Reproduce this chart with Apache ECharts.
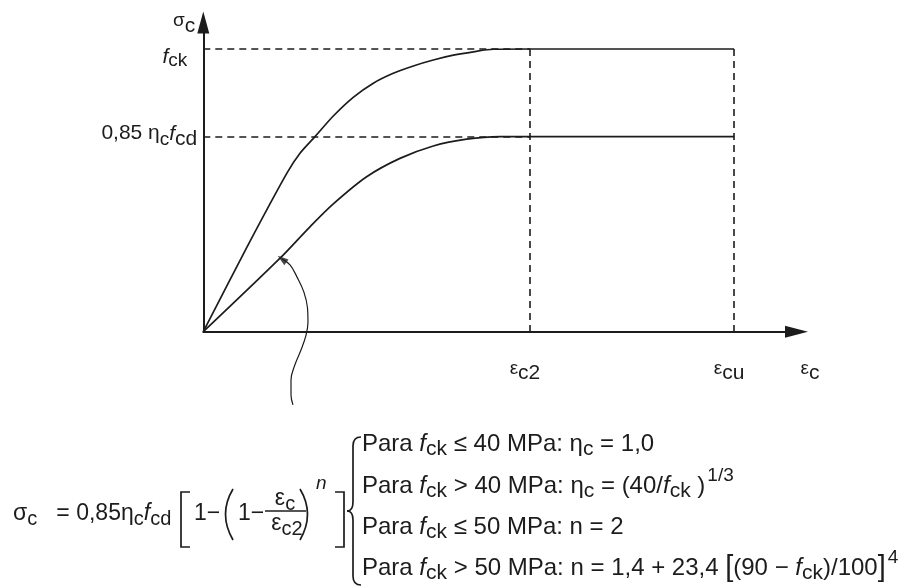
<!DOCTYPE html>
<html>
<head>
<meta charset="utf-8">
<script src="https://cdn.jsdelivr.net/npm/echarts@6/dist/echarts.min.js"></script>
<style>
  html, body { margin: 0; padding: 0; background: #ffffff; }
  #chart { width: 904px; height: 588px; }
</style>
</head>
<body>
<div id="chart"></div>
<script>
// Normalised units: strain relative to εc2 = 2.0, stress relative to fck = 1.0
const EPS_C2 = 2.0;
const EPS_CU = 3.25;
const FCK = 1.0;
const SIGMA_CD = 0.69;      // 0,85·ηc·fcd as a fraction of fck
const X_MAX = 3.632;
const Y_MAX = 1.094;

// Characteristic stress-strain curve (reaches fck at εc2, plateau to εcu)
const upperStrain = [0, 0.268, 0.511, 0.592, 0.684, 0.796, 0.918, 1.041, 1.163, 1.286, 1.408, 1.531, 1.653, 1.776, 2.0, 3.25];
const upperStress = [0, 0.300, 0.560, 0.631, 0.690, 0.763, 0.829, 0.879, 0.914, 0.940, 0.961, 0.978, 0.990, 0.999, 1.0, 1.0];

// Design parabola-rectangle curve (reaches 0,85·ηc·fcd at εc2)
const lowerStrain = [0, 0.470, 0.653, 0.796, 1.0, 1.204, 1.408, 1.612, 1.816, 2.0, 3.25];
const lowerStress = [0, 0.260, 0.371, 0.452, 0.548, 0.613, 0.657, 0.681, 0.690, 0.690, 0.690];

// Leader line from the formula up to the design curve
const leaderStrain = [0.482, 0.531, 0.574, 0.616, 0.638, 0.641, 0.629, 0.598, 0.561, 0.537, 0.537, 0.549];
const leaderStress = [0.257, 0.236, 0.193, 0.140, 0.084, 0.034, -0.012, -0.065, -0.117, -0.171, -0.224, -0.259];

// Axis tick positions and their labels
const xTickValues = [EPS_C2, EPS_CU];
const xTickLabels = ['{e|ε}{s|c2}', '{e|ε}{s|cu}'];
const yTickValues = [SIGMA_CD, FCK];
const yTickLabels = ['{n|0,85 η}{s|c}{i|f}{d|cd}', '{fi|f}{fs|ck}'];

const INK = '#1c1c1c';
const FONT = "'Liberation Sans', Arial, sans-serif";

const zip = (xs, ys) => xs.map((x, i) => [x, ys[i]]);

// Rich styles for the formula block
const R = {
  i:   { fontFamily: FONT, fontSize: 24, fontStyle: 'italic' },
  s:   { fontFamily: FONT, fontSize: 21, padding: [10, 0, 0, 0] },
  mi:  { fontFamily: FONT, fontSize: 23, fontStyle: 'italic' },
  ms:  { fontFamily: FONT, fontSize: 20, padding: [10, 0, 0, 0] },
  sup: { fontFamily: FONT, fontSize: 19, padding: [0, 0, 20, 2] },
  b:   { fontFamily: FONT, fontSize: 29 }
};

function txt(x, y, text, extra) {
  return {
    type: 'text', x: x, y: y, silent: true,
    style: Object.assign({
      text: text, fill: INK, fontFamily: FONT, fontSize: 24,
      align: 'left', verticalAlign: 'middle', rich: R
    }, extra || {})
  };
}
function stroke(type, shape) {
  return {
    type: type, silent: true, shape: shape,
    style: { stroke: INK, lineWidth: 1.7, fill: null }
  };
}
// quadratic curve helper for the large delimiters
const quad = (x1, y1, cx, cy, x2, y2) => stroke('bezierCurve', { x1: x1, y1: y1, cpx1: cx, cpy1: cy, x2: x2, y2: y2 });

const paraY = [444, 486, 527, 568];
const paraLines = [
  'Para {i|f}{s|ck} ≤ 40 MPa: η{s|c} = 1,0',
  'Para {i|f}{s|ck} > 40 MPa: η{s|c} = (40/{i|f}{s|ck} ){sup|1/3}',
  'Para {i|f}{s|ck} ≤ 50 MPa: n = 2',
  'Para {i|f}{s|ck} > 50 MPa: n = 1,4 + 23,4 {b|[}(90 − {i|f}{s|ck})/100{b|]}{sup|4}'
];

const formula = [
  txt(13, 514, 'σ{ms|c}   = 0,85η{ms|c}{mi|f}{ms|cd}', { fontSize: 23 }),
  stroke('polyline', { points: [[190, 492], [181, 492], [181, 547], [190, 547]] }),
  txt(194, 514, '1−', { fontSize: 23 }),
  quad(233, 489, 218, 514, 233, 540),
  txt(238, 514, '1−', { fontSize: 23 }),
  txt(285, 499, 'ε{ms|c}', { align: 'center', fontSize: 23 }),
  stroke('line', { x1: 265, y1: 511, x2: 306, y2: 511 }),
  txt(287, 524, 'ε{ms|c2}', { align: 'center', fontSize: 23 }),
  quad(300, 489, 315, 514, 300, 540),
  txt(316, 484, 'n', { fontStyle: 'italic', fontSize: 19 }),
  stroke('polyline', { points: [[335, 492], [344, 492], [344, 547], [335, 547]] }),
  // large left brace
  quad(361, 437, 353, 437, 353, 446),
  stroke('line', { x1: 353, y1: 446, x2: 353, y2: 502 }),
  quad(353, 502, 353, 511, 347, 511),
  quad(347, 511, 353, 511, 353, 520),
  stroke('line', { x1: 353, y1: 520, x2: 353, y2: 576 }),
  quad(353, 576, 353, 585, 361, 585)
].concat(paraLines.map((t, k) => txt(362, paraY[k], t)));

const refLine = { type: [7, 5], width: 1.6, color: INK };

const option = {
  animation: false,
  backgroundColor: '#ffffff',
  grid: { left: 203.3, right: 107.5, top: 22.4, bottom: 256.3, containLabel: false },
  xAxis: {
    type: 'value', min: 0, max: X_MAX,
    splitLine: { show: false },
    axisTick: { show: false },
    axisLine: {
      show: true, onZero: false,
      lineStyle: { color: INK, width: 2 },
      symbol: ['none', 'triangle'], symbolSize: [12, 23]
    },
    axisLabel: {
      customValues: xTickValues,
      margin: 23,
      padding: [0, 10, 0, 0],
      formatter: v => xTickLabels[xTickValues.indexOf(v)] || '',
      rich: {
        e: { fontFamily: FONT, fontSize: 19, color: INK },
        s: { fontFamily: FONT, fontSize: 21, color: INK, padding: [8, 0, 0, 0] }
      }
    },
    name: '{e|ε}{s|c}',
    nameLocation: 'end',
    nameGap: 4,
    nameTextStyle: {
      align: 'left', verticalAlign: 'top', padding: [23, 0, 0, 0],
      rich: {
        e: { fontFamily: FONT, fontSize: 19, color: INK },
        s: { fontFamily: FONT, fontSize: 21, color: INK, padding: [8, 0, 0, 0] }
      }
    }
  },
  yAxis: {
    type: 'value', min: 0, max: Y_MAX,
    splitLine: { show: false },
    axisTick: { show: false },
    axisLine: {
      show: true, onZero: false,
      lineStyle: { color: INK, width: 2 },
      symbol: ['none', 'triangle'], symbolSize: [12, 22]
    },
    axisLabel: {
      customValues: yTickValues,
      margin: 6,
      formatter: v => yTickLabels[yTickValues.indexOf(v)] || '',
      rich: {
        n:  { fontFamily: FONT, fontSize: 21, color: INK, padding: [0, 0, 6, 0] },
        s:  { fontFamily: FONT, fontSize: 19, color: INK, padding: [6, 0, 0, 0] },
        i:  { fontFamily: FONT, fontSize: 21, color: INK, fontStyle: 'italic', padding: [0, 0, 4, 0] },
        d:  { fontFamily: FONT, fontSize: 21, color: INK, padding: [6, 0, 0, 0] },
        fi: { fontFamily: FONT, fontSize: 21, color: INK, fontStyle: 'italic', padding: [17, 0, 0, 0] },
        fs: { fontFamily: FONT, fontSize: 19, color: INK, padding: [24, 10, 0, 0] }
      }
    },
    name: '{e|σ}{s|c}',
    nameLocation: 'end',
    nameGap: 0,
    nameTextStyle: {
      align: 'right', verticalAlign: 'middle', padding: [0, 8, 0, 0],
      rich: {
        e: { fontFamily: FONT, fontSize: 19, color: INK, padding: [0, 0, 4, 0] },
        s: { fontFamily: FONT, fontSize: 21, color: INK, padding: [8, 0, 0, 0] }
      }
    }
  },
  series: [
    {
      name: 'fck', type: 'line', data: zip(upperStrain, upperStress),
      smooth: 0.3, showSymbol: false, symbol: 'none',
      lineStyle: { color: INK, width: 1.7 },
      markLine: {
        silent: true, symbol: ['none', 'none'], label: { show: false },
        lineStyle: refLine,
        data: [
          [{ coord: [0, FCK] }, { coord: [EPS_C2, FCK] }],
          [{ coord: [0, SIGMA_CD] }, { coord: [EPS_C2, SIGMA_CD] }],
          [{ coord: [EPS_C2, FCK] }, { coord: [EPS_C2, 0] }],
          [{ coord: [EPS_CU, FCK] }, { coord: [EPS_CU, 0] }]
        ]
      }
    },
    {
      name: 'fcd', type: 'line', data: zip(lowerStrain, lowerStress),
      smooth: 0.3, showSymbol: false, symbol: 'none',
      lineStyle: { color: INK, width: 1.7 }
    },
    {
      name: 'leader', type: 'line', data: zip(leaderStrain, leaderStress),
      smooth: 0.4, clip: false, showSymbol: false, symbol: 'none',
      lineStyle: { color: INK, width: 1.2 }
    },
    {
      name: 'leaderHead', type: 'scatter', clip: false,
      data: [[leaderStrain[0], leaderStress[0]]],
      symbol: 'triangle', symbolSize: [7, 11], symbolRotate: 53,
      itemStyle: { color: INK }
    }
  ],
  graphic: formula
};

const chart = echarts.init(document.getElementById('chart'), null, { renderer: 'canvas' });
chart.setOption(option);
</script>
</body>
</html>
